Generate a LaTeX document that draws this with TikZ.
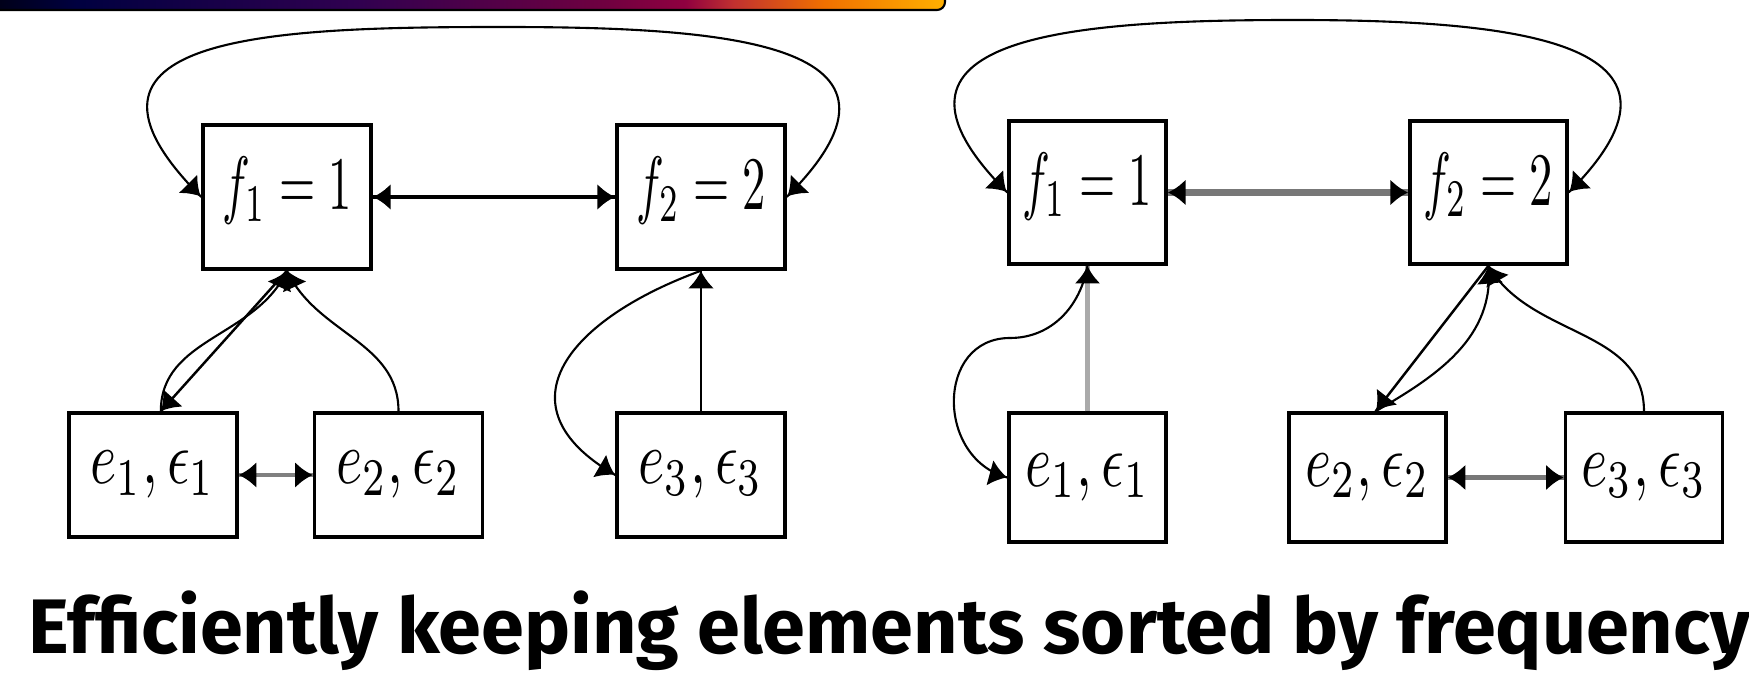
\documentclass[tikz,border=0pt]{standalone}
\usepackage{fontspec}
\newfontfamily\titlefont{Fira Sans}
\usepackage{graphicx}
\usetikzlibrary{arrows.meta}
\usetikzlibrary{decorations.markings}
\definecolor{barA}{HTML}{000010}
\definecolor{barB}{HTML}{000040}
\definecolor{barC}{HTML}{300050}
\definecolor{barD}{HTML}{700040}
\definecolor{barE}{HTML}{900040}
\definecolor{barF}{HTML}{C03030}
\definecolor{barG}{HTML}{F07000}
\definecolor{barH}{HTML}{FFB000}
\definecolor{mgray}{HTML}{777777}
\definecolor{lgray}{HTML}{AAAAAA}
\pgfdeclarehorizontalshading{topbar}{100bp}{color(0bp)=(barA); color(25bp)=(barA);
  color(30bp)=(barB); color(44.5bp)=(barC); color(57.5bp)=(barD); color(61.5bp)=(barE);
  color(64bp)=(barF); color(68.75bp)=(barG); color(75bp)=(barH); color(100bp)=(barH)}
\tikzset{head/.tip = {Latex[length=10pt,width=15pt,color=black]}}
\tikzset{->/.style = {decoration={markings,
                                  mark=at position 0.999 with {\arrow{head}}},
                      postaction={decorate}}}
\tikzset{<->/.style = {decoration={markings,
                                   mark=at position 0.001 with {\arrowreversed{head}},
                                   mark=at position 0.999 with {\arrow{head}}},
                       postaction={decorate}}}
\tikzset{cell/.style 2 args = {draw, line width=2pt, inner sep=0pt,
                               minimum width=#1, minimum height=#2}}
\newcommand{\flbl}[1]{\raisebox{3.4pt}[\height][\depth]{\scalebox{2.65}[4.3]{$#1$}}}
\newcommand{\elbl}[1]{\scalebox{3.2}[4.3]{$#1$}}

\begin{document}
\begin{tikzpicture}[x=0.02cm, y=0.02cm]
  \useasboundingbox (0,0) rectangle (1749,673);
  \shadedraw[shading=topbar, draw=black, line width=1.2pt, rounded corners=0.16cm]
    (-20,663) rectangle (945,700);
  % left list
  \node[cell={3.36cm}{2.88cm}] (f1L) at (287,476) {\flbl{f_1 = 1}};
  \node[cell={3.36cm}{2.88cm}] (f2L) at (701,476) {\flbl{f_2 = 2}};
  \node[cell={3.36cm}{2.48cm}] (e1L) at (153,198) {\elbl{e_1,\epsilon_1}};
  \node[cell={3.36cm}{2.48cm}] (e2L) at (398.5,198) {\elbl{e_2,\epsilon_2}};
  \node[cell={3.36cm}{2.48cm}] (e3L) at (701,198) {\elbl{e_3,\epsilon_3}};
  \coordinate (topL) at (502,646);
  \draw[<->, line width=2.2pt] (f1L.east) -- (f2L.west);
  \draw[<->, line width=1.2pt] (f1L.west) to[out=135, in=180, looseness=1.7] (topL)
    to[out=0, in=45, looseness=1.7] (f2L.east);
  \draw[->, line width=1.4pt] (f1L.south) -- (e1L.83);
  \draw[->, line width=1.2pt] (e1L.83) to[out=90, in=-115] (f1L.south);
  \draw[->, line width=1.2pt] (e2L.north) to[out=90, in=-65] (f1L.south);
  \draw[<->, line width=2.5pt, black!50] (e1L.east) -- (e2L.west);
  \draw[->, line width=1.6pt] (e3L.north) -- (f2L.south);
  \draw[->, line width=1.2pt] (f2L.south) to[out=-160, in=150, looseness=1.6] (e3L.west);
  % right list
  \node[cell={3.14cm}{2.86cm}] (f1R) at (1087.5,480.5) {\flbl{f_1 = 1}};
  \node[cell={3.14cm}{2.86cm}] (f2R) at (1488.5,480.5) {\flbl{f_2 = 2}};
  \node[cell={3.14cm}{2.58cm}] (e1R) at (1087.5,195.5) {\elbl{e_1,\epsilon_1}};
  \node[cell={3.14cm}{2.58cm}] (e2R) at (1367.5,195.5) {\elbl{e_2,\epsilon_2}};
  \node[cell={3.14cm}{2.58cm}] (e3R) at (1644,195.5) {\elbl{e_3,\epsilon_3}};
  \coordinate (topR) at (1294,653);
  \coordinate (hookR) at (1010,335);
  \draw[<->, line width=3.5pt, mgray] (f1R.east) -- (f2R.west);
  \draw[<->, line width=1.2pt] (f1R.west) to[out=135, in=180, looseness=1.7] (topR)
    to[out=0, in=45, looseness=1.7] (f2R.east);
  \draw[->, line width=3.2pt, lgray] (e1R.north) -- (f1R.south);
  \draw[->, line width=1.2pt] (f1R.south) to[out=-100, in=0] (hookR)
    to[out=180, in=165, looseness=1.36] (e1R.west);
  \draw[->, line width=1.4pt] (f2R.south) -- (e2R.83);
  \draw[->, line width=1.2pt] (e2R.83) to[out=30, in=-85] (f2R.south);
  \draw[->, line width=1.2pt] (e3R.north) to[out=90, in=-60] (f2R.south);
  \draw[<->, line width=3pt, mgray] (e2R.east) -- (e3R.west);
  % caption
  \node[anchor=base west, inner sep=0pt, font=\titlefont\bfseries\fontsize{44}{44}\selectfont]
    (title) at (28,19) {Efficiently keeping elements sorted by frequency};
\end{tikzpicture}
\end{document}
